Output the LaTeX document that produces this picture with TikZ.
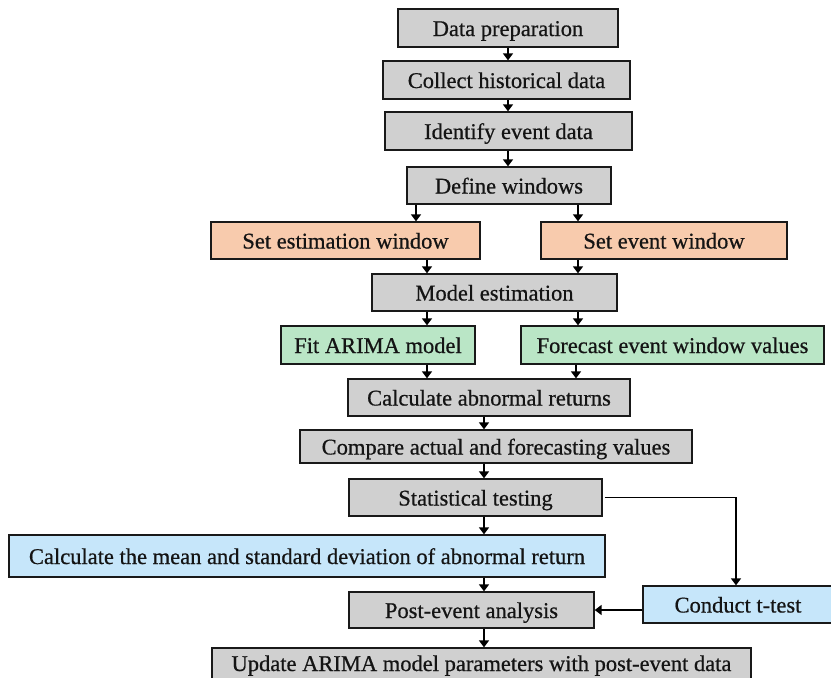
\documentclass[tikz,border=0pt]{standalone}
\usepackage{fontspec}
\setmainfont[FakeBold=0.6]{Liberation Serif}
\usetikzlibrary{arrows.meta,calc}
\definecolor{boxgray}{RGB}{208,208,208}
\definecolor{boxorange}{RGB}{248,203,173}
\definecolor{boxgreen}{RGB}{186,230,198}
\definecolor{boxblue}{RGB}{198,230,250}
\definecolor{edgecol}{RGB}{25,25,25}
\tikzset{
  box/.style={draw=edgecol, line width=1.4pt, inner sep=0pt, align=center,
    text height=17pt, text depth=1pt,
    font=\fontsize{22.5}{26}\selectfont, text=black!92},
  graybox/.style={box, fill=boxgray},
  orangebox/.style={box, fill=boxorange},
  greenbox/.style={box, fill=boxgreen},
  bluebox/.style={box, fill=boxblue},
  arr/.style={draw=black, line width=1.7pt, -{Triangle[length=7pt,width=10pt]}},
}
\begin{document}
\begin{tikzpicture}[x=1pt,y=-1pt]
\useasboundingbox (0,0) rectangle (831,678);
\clip (0,0) rectangle (831,678);
% nodes
\node[graybox, minimum width=220pt, minimum height=38pt] (dp) at (508,28) {Data preparation};
\node[graybox, minimum width=247pt, minimum height=38pt] (chd) at (506.5,80) {Collect historical data};
\node[graybox, minimum width=247pt, minimum height=38pt] (ied) at (508.5,131) {Identify event data};
\node[graybox, minimum width=204pt, minimum height=37pt] (dw) at (509,185.5) {Define windows};
\node[orangebox, minimum width=269pt, minimum height=37pt] (sew) at (345.5,240.5) {Set estimation window};
\node[orangebox, minimum width=246pt, minimum height=37pt] (sevw) at (664,240.5) {Set event window};
\node[graybox, minimum width=245pt, minimum height=37pt] (me) at (494.5,292.5) {Model estimation};
\node[greenbox, minimum width=194pt, minimum height=38pt] (fit) at (378,345) {Fit ARIMA model};
\node[greenbox, minimum width=303pt, minimum height=38pt] (fc) at (672.5,345) {Forecast event window values};
\node[graybox, minimum width=282pt, minimum height=37pt] (car) at (489,397.5) {Calculate abnormal returns};
\node[graybox, minimum width=392pt, minimum height=33pt] (cmp) at (496,446.5) {Compare actual and forecasting values};
\node[graybox, minimum width=253pt, minimum height=37pt] (st) at (475.5,497.5) {Statistical testing};
\node[bluebox, minimum width=596pt, minimum height=42pt] (cm) at (307,556) {Calculate the mean and standard deviation of abnormal return};
\node[graybox, minimum width=245pt, minimum height=36pt] (pe) at (471.5,610) {Post-event analysis};
\node[bluebox, minimum width=190pt, minimum height=37pt] (tt) at (738,604.5) {Conduct t-test};
\node[graybox, minimum width=539pt, minimum height=38pt, text height=9pt, text depth=1pt] (up) at (481.5,667) {Update ARIMA model parameters with post-event data};
% x positions of vertical connectors
\coordinate (xa) at (508,0);
\coordinate (xb) at (416,0);
\coordinate (xc) at (578,0);
\coordinate (xd) at (427,0);
\coordinate (xe) at (576,0);
\coordinate (xf) at (484,0);
\coordinate (xg) at (736,0);
% connectors
\draw[arr] (dp.south -| xa) -- (chd.north -| xa);
\draw[arr] (chd.south -| xa) -- (ied.north -| xa);
\draw[arr] (ied.south -| xa) -- (dw.north -| xa);
\draw[arr] (dw.south -| xb) -- (sew.north -| xb);
\draw[arr] (dw.south -| xc) -- (sevw.north -| xc);
\draw[arr] (sew.south -| xd) -- (me.north -| xd);
\draw[arr] (sevw.south -| xc) -- (me.north -| xc);
\draw[arr] (me.south -| xd) -- (fit.north -| xd);
\draw[arr] (me.south -| xc) -- (fc.north -| xc);
\draw[arr] (fit.south -| xd) -- (car.north -| xd);
\draw[arr] (fc.south -| xe) -- (car.north -| xe);
\draw[arr] (car.south -| xf) -- (cmp.north -| xf);
\draw[arr] (cmp.south -| xf) -- (st.north -| xf);
\draw[arr] (st.south -| xf) -- (cm.north -| xf);
\draw[arr] (cm.south -| xf) -- (pe.north -| xf);
\draw[arr] (pe.south -| xf) -- (up.north -| xf);
\draw[arr] ([xshift=2pt]st.east) -| (tt.north -| xg);
\draw[arr] (tt.west |- pe.east) -- (pe.east);
\end{tikzpicture}
\end{document}
